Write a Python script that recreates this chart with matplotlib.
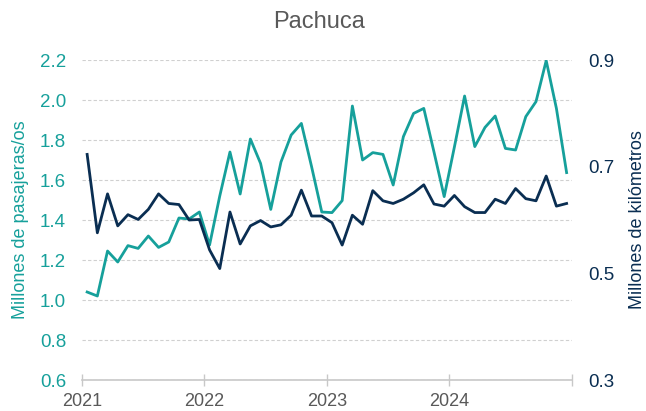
import matplotlib
matplotlib.use("Agg")
import matplotlib.pyplot as plt
import numpy as np

plt.rcParams['font.family'] = ['Liberation Sans', 'DejaVu Sans']

years = ["2021", "2022", "2023", "2024"]
pasajeros = [1.04, 1.02, 1.245, 1.19, 1.272, 1.258, 1.32, 1.263, 1.29, 1.41, 1.405, 1.44,
             1.275, 1.52, 1.74, 1.53, 1.805, 1.683, 1.453, 1.69, 1.825, 1.883, 1.667, 1.44,
             1.437, 1.497, 1.97, 1.70, 1.737, 1.728, 1.575, 1.817, 1.933, 1.958, 1.74, 1.517,
             1.765, 2.02, 1.767, 1.863, 1.92, 1.758, 1.75, 1.917, 1.992, 2.197, 1.958, 1.637]
kilometros = [0.723, 0.576, 0.649, 0.589, 0.61, 0.601, 0.62, 0.649, 0.631, 0.629, 0.60, 0.601,
              0.544, 0.509, 0.615, 0.555, 0.589, 0.599, 0.587, 0.591, 0.609, 0.656, 0.6075, 0.6075,
              0.595, 0.553, 0.609, 0.592, 0.655, 0.636, 0.631, 0.639, 0.651, 0.666, 0.630, 0.626,
              0.646, 0.625, 0.614, 0.614, 0.639, 0.631, 0.659, 0.640, 0.636, 0.6825, 0.626, 0.631]

teal = "#16A09B"
navy = "#0A2E52"
gray = "#595959"

fig = plt.figure(figsize=(6.46, 4.11), dpi=100)
ax = fig.add_axes([0.127, 0.0754, 0.758, 0.7786])
ax2 = ax.twinx()

x = np.arange(len(pasajeros)) + 0.5
ax.plot(x, pasajeros, color=teal, lw=2.0, zorder=3)
ax2.plot(x, kilometros, color=navy, lw=2.0, zorder=3)

ax.set_xlim(0, 48)
ax.set_ylim(0.6, 2.2)
ax.set_yticks(np.arange(0.6, 2.21, 0.2))
ax.set_yticklabels([f"{v:.1f}" for v in np.arange(0.6, 2.21, 0.2)])
ax2.set_ylim(0.3, 0.9)
ax2.set_yticks([0.3, 0.5, 0.7, 0.9])
ax2.set_yticklabels(["0.3", "0.5", "0.7", "0.9"])

ax.set_xticks([0, 12, 24, 36, 48])
ax.set_xticklabels(years + [""])

for a in (ax, ax2):
    for s in ("top", "left", "right", "bottom"):
        a.spines[s].set_visible(False)
ax.spines["bottom"].set_visible(True)
ax.spines["bottom"].set_color("#C8C8C8")
ax.spines["bottom"].set_linewidth(1.2)

ax.grid(axis="y", color="#D0D0D0", linestyle=(0, (3, 2)), linewidth=0.8)
ax.set_axisbelow(True)

ax.tick_params(axis="y", length=0, labelsize=13.5, labelcolor=teal, pad=11.5)
ax2.tick_params(axis="y", length=0, labelsize=13.5, labelcolor=navy, pad=12)
ax.tick_params(axis="x", direction="inout", length=8, color="#C8C8C8", width=1.0,
               labelsize=13, labelcolor=gray, pad=5)

ax.set_ylabel("Millones de pasajeras/os", color=teal, fontsize=13, labelpad=8)
ax2.set_ylabel("Millones de kilómetros", color=navy, fontsize=13, labelpad=10)

fig.text(0.4946, 0.947, "Pachuca", ha="center", va="center", fontsize=17, color=gray)

fig.savefig("out.png", dpi=100)
